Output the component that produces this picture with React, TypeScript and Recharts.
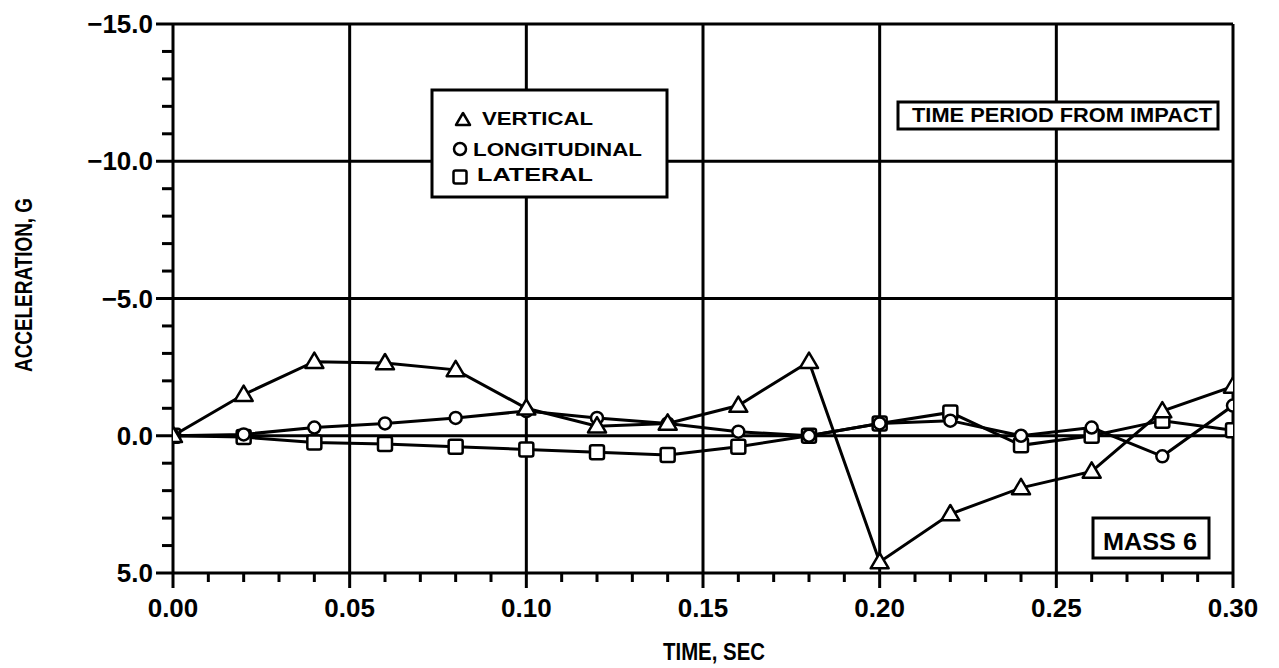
import React from "react";
import { LineChart, Line, XAxis, YAxis, ReferenceLine } from "recharts";

const TIME = [0, 0.02, 0.04, 0.06, 0.08, 0.1, 0.12, 0.14, 0.16, 0.18, 0.2, 0.22, 0.24, 0.26, 0.28, 0.3];
const VERTICAL = [0, -1.5, -2.7, -2.65, -2.4, -1.0, -0.35, -0.45, -1.1, -2.7, 4.6, 2.85, 1.9, 1.3, -0.9, -1.8];
const LONGITUDINAL = [0, -0.05, -0.3, -0.45, -0.65, -0.9, -0.65, -0.45, -0.15, 0.0, -0.45, -0.55, 0.0, -0.3, 0.75, -1.1];
const LATERAL = [0, 0.05, 0.25, 0.3, 0.4, 0.5, 0.6, 0.7, 0.4, 0.0, -0.45, -0.85, 0.35, 0.0, -0.55, -0.2];

const X_TICKS = Array.from({ length: 31 }, (_, i) => i / 100);
const Y_TICKS = Array.from({ length: 21 }, (_, i) => i - 15);
const X_GRID = [0.05, 0.1, 0.15, 0.2, 0.25, 0.3];
const Y_GRID = [-15, -10, -5, 0];

const data = TIME.map((t, i) => ({
  t,
  vertical: VERTICAL[i],
  longitudinal: LONGITUDINAL[i],
  lateral: LATERAL[i],
}));

const FONT = "'Liberation Sans', Arial, sans-serif";

const XTick = (props: any) => {
  const { x, y, payload } = props;
  const v = payload.value;
  const major = Math.round(v * 100) % 5 === 0;
  return (
    <g>
      <line x1={x} y1={y} x2={x} y2={y + (major ? 15 : 9)} stroke="#000" strokeWidth={3} />
      {major && (
        <text x={x} y={y + 44} textAnchor="middle" fontFamily={FONT} fontWeight="bold" fontSize={26} fill="#000">
          {v.toFixed(2)}
        </text>
      )}
    </g>
  );
};

const YTick = (props: any) => {
  const { x, y, payload } = props;
  const v = payload.value;
  const major = Math.round(v) % 5 === 0;
  const label = v < 0 ? "\u2212" + Math.abs(v).toFixed(1) : v.toFixed(1);
  return (
    <g>
      <line x1={x} y1={y} x2={x - (major ? 17 : 11)} y2={y} stroke="#000" strokeWidth={3} />
      {major && (
        <text x={x - 20} y={y + 9} textAnchor="end" fontFamily={FONT} fontWeight="bold" fontSize={26} fill="#000">
          {label}
        </text>
      )}
    </g>
  );
};

const Tri = ({ cx, cy, s = 9 }: any) => (
  <polygon
    points={`${cx},${cy - s} ${cx - s},${cy + s * 0.7} ${cx + s},${cy + s * 0.7}`}
    fill="#fff"
    stroke="#000"
    strokeWidth={2.5}
    strokeLinejoin="round"
  />
);
const Circ = ({ cx, cy, r = 6 }: any) => <circle cx={cx} cy={cy} r={r} fill="#fff" stroke="#000" strokeWidth={2.5} />;
const Sq = ({ cx, cy, s = 7 }: any) => (
  <rect x={cx - s} y={cy - s} width={2 * s} height={2 * s} rx={2} fill="#fff" stroke="#000" strokeWidth={2.5} />
);

const triDot = (p: any) => <Tri key={`tri-${p.index}`} cx={p.cx} cy={p.cy} />;
const circDot = (p: any) => <Circ key={`circ-${p.index}`} cx={p.cx} cy={p.cy} />;
const sqDot = (p: any) => <Sq key={`sq-${p.index}`} cx={p.cx} cy={p.cy} />;

export default function App() {
  return (
    <div style={{ position: "absolute", left: 0, top: 0, width: 1279, height: 668, background: "#fff" }}>
      <LineChart width={1279} height={668} data={data} margin={{ top: 24, right: 46, bottom: 0, left: 0 }}>
        <XAxis
          dataKey="t"
          type="number"
          domain={[0, 0.3]}
          ticks={X_TICKS}
          interval={0}
          tick={<XTick />}
          tickLine={false}
          tickSize={0}
          tickMargin={0}
          height={95}
          axisLine={{ stroke: "#000", strokeWidth: 3 }}
          allowDataOverflow
        />
        <YAxis
          type="number"
          domain={[-15, 5]}
          reversed
          ticks={Y_TICKS}
          interval={0}
          tick={<YTick />}
          tickLine={false}
          tickSize={0}
          tickMargin={0}
          width={173}
          axisLine={{ stroke: "#000", strokeWidth: 3 }}
          allowDataOverflow
        />
        {X_GRID.map((v) => (
          <ReferenceLine key={`xg${v}`} x={v} stroke="#000" strokeWidth={3} ifOverflow="extendDomain" />
        ))}
        {Y_GRID.map((v) => (
          <ReferenceLine key={`yg${v}`} y={v} stroke="#000" strokeWidth={3} ifOverflow="extendDomain" />
        ))}
        <Line type="linear" dataKey="lateral" stroke="#000" strokeWidth={3} dot={sqDot} activeDot={false} isAnimationActive={false} />
        <Line type="linear" dataKey="longitudinal" stroke="#000" strokeWidth={3} dot={circDot} activeDot={false} isAnimationActive={false} />
        <Line type="linear" dataKey="vertical" stroke="#000" strokeWidth={3} dot={triDot} activeDot={false} isAnimationActive={false} />
      </LineChart>
      <svg width={1279} height={668} style={{ position: "absolute", left: 0, top: 0, pointerEvents: "none" }}>
        {/* Legend */}
        <rect x={432} y={90} width={235} height={107} fill="#fff" stroke="#000" strokeWidth={3} />
        <Tri cx={463} cy={120} s={7} />
        <text x={482} y={125} fontFamily={FONT} fontWeight="bold" fontSize={18} textLength={111} lengthAdjust="spacingAndGlyphs">VERTICAL</text>
        <Circ cx={460} cy={149} r={6} />
        <text x={473} y={156} fontFamily={FONT} fontWeight="bold" fontSize={18} textLength={169} lengthAdjust="spacingAndGlyphs">LONGITUDINAL</text>
        <Sq cx={460} cy={177} s={6.5} />
        <text x={477} y={181} fontFamily={FONT} fontWeight="bold" fontSize={18} textLength={116} lengthAdjust="spacingAndGlyphs">LATERAL</text>

        {/* Time period box */}
        <rect x={898} y={102} width={320} height={27} fill="#fff" stroke="#000" strokeWidth={3} />
        <text x={912} y={122} fontFamily={FONT} fontWeight="bold" fontSize={20} textLength={300} lengthAdjust="spacingAndGlyphs">TIME PERIOD FROM IMPACT</text>

        {/* Mass box */}
        <rect x={1093} y={518} width={116} height={40} fill="#fff" stroke="#000" strokeWidth={3} />
        <text x={1103} y={550} fontFamily={FONT} fontWeight="bold" fontSize={24} textLength={94} lengthAdjust="spacingAndGlyphs">MASS 6</text>

        {/* Axis titles */}
        <text x={663} y={660} fontFamily={FONT} fontWeight="bold" fontSize={24} textLength={102} lengthAdjust="spacingAndGlyphs">TIME, SEC</text>
        <text
          x={0}
          y={0}
          transform="translate(32,372) rotate(-90)"
          fontFamily={FONT}
          fontWeight="bold"
          fontSize={23}
          textLength={174}
          lengthAdjust="spacingAndGlyphs"
        >
          ACCELERATION, G
        </text>
      </svg>
    </div>
  );
}
